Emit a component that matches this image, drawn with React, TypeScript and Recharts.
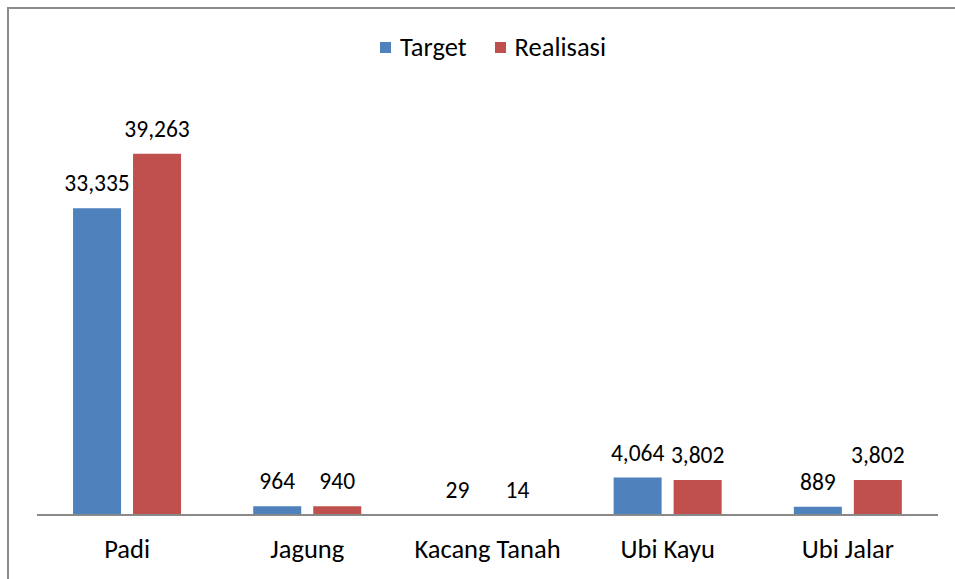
import { BarChart, Bar, XAxis, YAxis, Legend, LabelList } from 'recharts'

const categories = ['Padi', 'Jagung', 'Kacang Tanah', 'Ubi Kayu', 'Ubi Jalar']
const target = [33335, 964, 29, 4064, 889]
const realisasi = [39263, 940, 14, 3802, 3802]

const FONT = 'Carlito, Calibri, Lato, sans-serif'
const BLUE = '#4f81bd'
const RED = '#c0504d'

const data = categories.map((name, i) => ({
  name,
  target: target[i],
  realisasi: realisasi[i],
}))

const fmt = (v: number) => v.toLocaleString('en-US')

function LegendBox() {
  const items = [
    { label: 'Target', color: BLUE },
    { label: 'Realisasi', color: RED },
  ]
  return (
    <div style={{ display: 'flex', alignItems: 'center', fontFamily: FONT, fontSize: 26.5, color: '#000' }}>
      {items.map((it) => (
        <div key={it.label} style={{ display: 'flex', alignItems: 'center', marginRight: 28 }}>
          <span style={{ width: 11, height: 11, background: it.color, display: 'inline-block', marginRight: 9 }} />
          <span>{it.label}</span>
        </div>
      ))}
    </div>
  )
}

const labelStyle = { fill: '#000', fontSize: 23.5, fontFamily: FONT }

export default function App() {
  return (
    <div style={{ position: 'absolute', left: 0, top: 0, width: 955, height: 579, background: '#fff', overflow: 'hidden' }}>
      <div
        style={{
          position: 'absolute',
          left: 7,
          top: 7,
          width: 1000,
          height: 700,
          borderTop: '2px solid #8c8c8c',
          borderLeft: '2px solid #8c8c8c',
        }}
      />
      <BarChart
        width={955}
        height={579}
        data={data}
        margin={{ top: 101, right: 17, bottom: 34, left: 37 }}
        barGap={12}
        barCategoryGap="20%"
        style={{ position: 'absolute', left: 0, top: 0 }}
      >
        <XAxis
          dataKey="name"
          height={30}
          axisLine={{ stroke: '#898989', strokeWidth: 2 }}
          tickLine={false}
          tickMargin={18}
          tick={{ fill: '#000', fontSize: 26.5, fontFamily: FONT }}
        />
        <YAxis hide domain={[0, 45000]} />
        <Legend
          verticalAlign="middle"
          content={() => <LegendBox />}
          wrapperStyle={{ top: 31, left: 380, width: 'auto' }}
        />
        <Bar dataKey="target" name="Target" fill={BLUE} isAnimationActive={false}>
          <LabelList dataKey="target" position="top" offset={17} formatter={(v: any) => fmt(Number(v))} style={labelStyle} />
        </Bar>
        <Bar dataKey="realisasi" name="Realisasi" fill={RED} isAnimationActive={false}>
          <LabelList dataKey="realisasi" position="top" offset={17} formatter={(v: any) => fmt(Number(v))} style={labelStyle} />
        </Bar>
      </BarChart>
    </div>
  )
}
